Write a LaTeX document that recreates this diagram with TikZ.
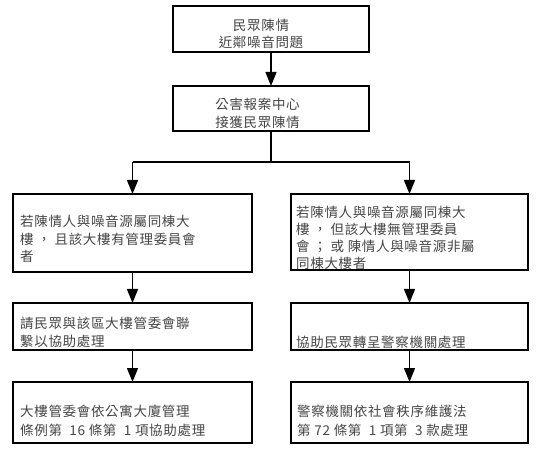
\documentclass[tikz,border=0pt]{standalone}
\usepackage{fontspec}
\setmainfont{Noto Sans CJK TC}[LetterSpace=5]
\usetikzlibrary{arrows.meta}
\definecolor{txtgray}{HTML}{454545}
\tikzset{
  box/.style={draw=black, line width=1.1pt, rectangle, inner sep=0pt, outer sep=0pt},
  lbl/.style={inner sep=0pt, text=txtgray, font=\fontsize{13.5}{17.5}\selectfont},
  conn/.style={line width=1.4pt, draw=black},
  arr/.style={conn, -{Triangle[width=11pt,length=14pt]}}
}
\begin{document}
\begin{tikzpicture}[x=1pt,y=-1pt]
\useasboundingbox (0,0) rectangle (546,454);
% boxes
\node[box, minimum width=196pt, minimum height=46pt] (b1) at (271,29) {};
\node[box, minimum width=196pt, minimum height=45pt] (b2) at (271,108.5) {};
\node[box, minimum width=239pt, minimum height=78pt] (b3) at (132.5,233) {};
\node[box, minimum width=237pt, minimum height=76pt] (b4) at (409.5,232) {};
\node[box, minimum width=239pt, minimum height=47pt] (b5) at (132.5,326.5) {};
\node[box, minimum width=237pt, minimum height=47pt] (b6) at (409.5,326.5) {};
\node[box, minimum width=239pt, minimum height=61pt] (b7) at (132.5,412.5) {};
\node[box, minimum width=237pt, minimum height=61pt] (b8) at (409.5,412.5) {};
% texts
\node[lbl, align=center] (t1) at (261,34) {民眾陳情\\近鄰噪音問題};
\node[lbl, align=center] (t2) at (257.5,113.5) {公害報案中心\\接獲民眾陳情};
\node[lbl, align=left, anchor=west] (t3) at (20,239) {若陳情人與噪音源屬同棟大\\樓 ， 且該大樓有管理委員會\\者};
\node[lbl, align=left, anchor=west, font=\fontsize{13.5}{17}\selectfont] (t4) at (296,237.5) {若陳情人與噪音源屬同棟大\\樓 ， 但該大樓無管理委員\\會 ； 或 陳情人與噪音源非屬\\同棟大樓者};
\node[lbl, align=left, anchor=west, font=\fontsize{13.5}{18.5}\selectfont] (t5) at (20,332.5) {請民眾與該區大樓管委會聯\\繫以協助處理};
\node[lbl, align=left, anchor=west] (t6) at (296,342) {協助民眾轉呈警察機關處理};
\node[lbl, align=left, anchor=west, font=\fontsize{13.5}{19.5}\selectfont] (t7) at (20,421) {大樓管委會依公寓大廈管理\\條例第\ \ 16 條第\ \ 1 項協助處理};
\node[lbl, align=left, anchor=west, font=\fontsize{13.5}{19.5}\selectfont] (t8) at (297,421) {警察機關依社會秩序維護法\\第 72 條第\ \ 1 項第\ \ 3 款處理};
% connectors
\coordinate (split) at (271,162);
\coordinate (splitL) at (b3.north |- split);
\coordinate (splitR) at (b4.north |- split);
\draw[arr] (b1.south) -- (b2.north);
\draw[conn] (b2.south) -- (split);
\draw[conn] (splitL) -- (splitR);
\draw[arr] (splitL) -- (b3.north);
\draw[arr] (splitR) -- (b4.north);
\draw[arr] (b3.south) -- (b5.north);
\draw[arr] (b5.south) -- (b7.north);
\draw[arr] (b4.south) -- (b6.north);
\draw[arr] (b6.south) -- (b8.north);
\end{tikzpicture}
\end{document}
